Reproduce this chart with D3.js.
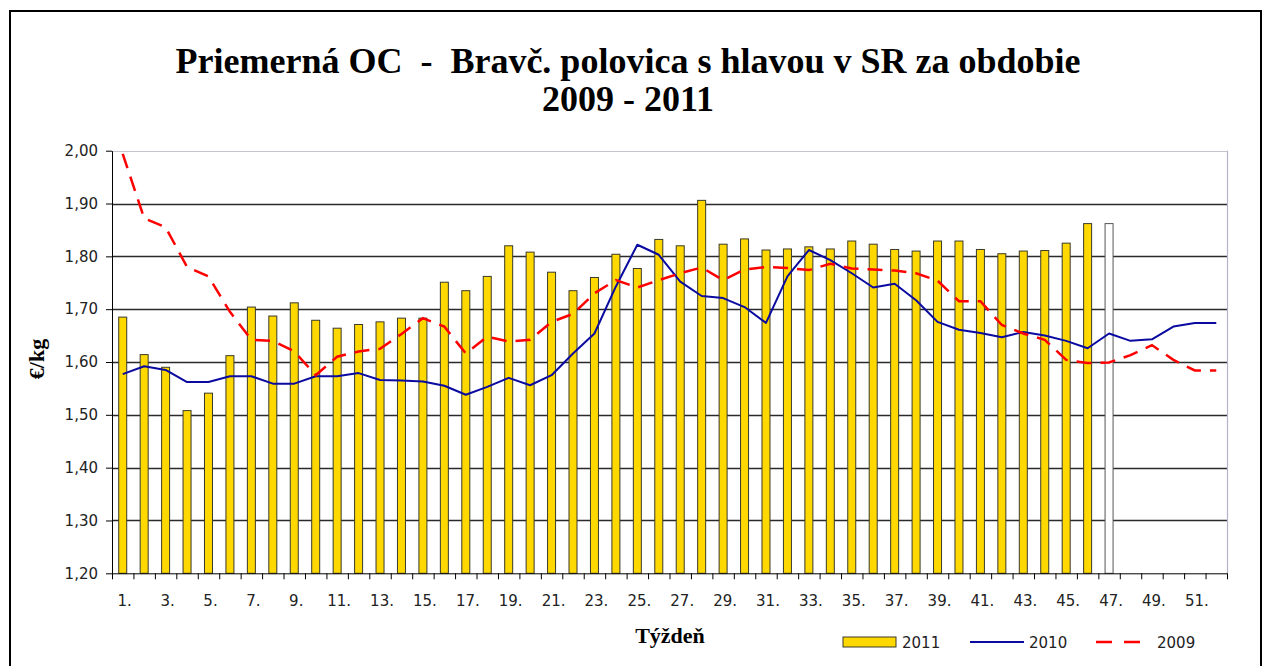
<!DOCTYPE html>
<html>
<head>
<meta charset="utf-8">
<script src="https://cdn.jsdelivr.net/npm/d3@7"></script>
<style>
  html, body { margin: 0; padding: 0; background: #fff; }
  svg { display: block; }
  text { white-space: pre; }
</style>
</head>
<body>
<svg id="chart" width="1270" height="666"></svg>
<script>
// ---- data ----
const weeks = d3.range(1, 53);
const tickWeeks = d3.range(1, 53, 2);
const yTicks = [1.2, 1.3, 1.4, 1.5, 1.6, 1.7, 1.8, 1.9, 2.0];

const values2011 = [1.685, 1.614, 1.590, 1.508, 1.541, 1.612, 1.704, 1.687, 1.712, 1.679,
  1.664, 1.671, 1.676, 1.683, 1.683, 1.751, 1.735, 1.762, 1.820, 1.808,
  1.770, 1.735, 1.760, 1.804, 1.777, 1.832, 1.820, 1.906, 1.823, 1.833,
  1.812, 1.814, 1.818, 1.814, 1.829, 1.823, 1.813, 1.810, 1.829, 1.829,
  1.813, 1.805, 1.810, 1.811, 1.825, 1.862, 1.862];
const emptyWeek = 47; // last bar drawn without fill

const values2010 = [1.577, 1.592, 1.585, 1.562, 1.562, 1.573, 1.573, 1.559, 1.559, 1.573,
  1.573, 1.579, 1.566, 1.565, 1.563, 1.555, 1.538, 1.553, 1.570, 1.556,
  1.575, 1.616, 1.654, 1.743, 1.822, 1.803, 1.752, 1.725, 1.721, 1.704,
  1.674, 1.762, 1.812, 1.793, 1.768, 1.741, 1.748, 1.717, 1.676, 1.661,
  1.655, 1.647, 1.657, 1.650, 1.640, 1.626, 1.654, 1.640, 1.643, 1.667,
  1.674, 1.674];

const values2009 = [1.994, 1.872, 1.855, 1.780, 1.762, 1.695, 1.642, 1.640, 1.620, 1.575,
  1.610, 1.620, 1.625, 1.653, 1.683, 1.667, 1.616, 1.648, 1.639, 1.642,
  1.676, 1.691, 1.730, 1.755, 1.741, 1.755, 1.768, 1.779, 1.755, 1.775,
  1.780, 1.778, 1.774, 1.786, 1.777, 1.775, 1.773, 1.768, 1.754, 1.715,
  1.715, 1.670, 1.654, 1.642, 1.604, 1.598, 1.599, 1.613, 1.632, 1.604,
  1.584, 1.584];

const titleLine1 = "Priemerná OC  -  Bravč. polovica s hlavou v SR za obdobie";
const titleLine2 = "2009 - 2011";
const yTitle = "€/kg";
const xTitle = "Týždeň";
const legendLabels = ["2011", "2010", "2009"];

// ---- layout ----
const svg = d3.select("#chart");
const L = 112, R = 1227, T = 150.7, B = 573.3;

const x = d3.scaleBand().domain(weeks).range([L, R]).paddingInner(0.627).paddingOuter(0.3135);
const xEdge = d3.scaleLinear().domain([0, 52]).range([L, R]);
const y = d3.scaleLinear().domain([1.2, 2.0]).range([B, T]);
const cx = d => x(d) + x.bandwidth() / 2;

// outer frame
svg.append("rect").attr("x", 10).attr("y", 11).attr("width", 1251).attr("height", 700)
  .attr("fill", "none").attr("stroke", "#000").attr("stroke-width", 2);

// gridlines
svg.append("g").selectAll("line").data(yTicks.filter(v => v > 1.2 && v < 2.0)).join("line")
  .attr("x1", L).attr("x2", R)
  .attr("y1", d => Math.round(y(d)) + 0.5).attr("y2", d => Math.round(y(d)) + 0.5)
  .attr("stroke", "#2a2a2a").attr("stroke-width", 1.3);

// plot border top/right
svg.append("line").attr("x1", L).attr("x2", R).attr("y1", Math.round(T) + 0.5).attr("y2", Math.round(T) + 0.5)
  .attr("stroke", "#c4c4cc").attr("stroke-width", 1.2);
svg.append("line").attr("x1", R + 0.5).attr("x2", R + 0.5).attr("y1", T).attr("y2", B)
  .attr("stroke", "#b4b4cc").attr("stroke-width", 1.2);

// bars 2011
svg.append("g").selectAll("rect").data(values2011.map((v, i) => ({ w: i + 1, v }))).join("rect")
  .attr("x", d => x(d.w)).attr("width", x.bandwidth())
  .attr("y", d => y(d.v)).attr("height", d => B - y(d.v))
  .attr("fill", d => d.w === emptyWeek ? "#ffffff" : "#ffd800")
  .attr("stroke", d => d.w === emptyWeek ? "#555" : "#3a3a2a").attr("stroke-width", 1);

// line 2010
const line = d3.line().x((d, i) => cx(weeks[i])).y(d => y(d));
svg.append("path").datum(values2010).attr("d", line)
  .attr("fill", "none").attr("stroke", "#0a0aa0").attr("stroke-width", 2).attr("stroke-linejoin", "round");

// line 2009
svg.append("path").datum(values2009).attr("d", line)
  .attr("fill", "none").attr("stroke", "#ff0000").attr("stroke-width", 2.5)
  .attr("stroke-dasharray", "15,9");

// y axis
const yAxis = svg.append("g").attr("transform", `translate(${L},0)`)
  .call(d3.axisLeft(y).tickValues(yTicks).tickSize(6).tickSizeOuter(0)
    .tickFormat(d => d.toFixed(2).replace(".", ",")));
yAxis.select(".domain").attr("stroke", "#000");
yAxis.selectAll(".tick line").attr("stroke", "#000");
yAxis.selectAll(".tick text").attr("font-family", "DejaVu Sans").attr("font-size", 15)
  .attr("fill", "#222").attr("x", -14);

// x axis: ticks at boundaries
const xTicksG = svg.append("g").attr("transform", `translate(0,${B})`)
  .call(d3.axisBottom(xEdge).tickValues(d3.range(0, 53)).tickSize(6).tickSizeOuter(0).tickFormat(""));
xTicksG.select(".domain").attr("stroke", "#000");
xTicksG.selectAll(".tick line").attr("stroke", "#000");

// x labels
const xLab = svg.append("g").attr("transform", `translate(0,${B})`)
  .call(d3.axisBottom(x).tickValues(tickWeeks).tickSize(0).tickFormat(d => d + "."));
xLab.select(".domain").remove();
xLab.selectAll(".tick text").attr("font-family", "DejaVu Sans").attr("font-size", 15)
  .attr("fill", "#222").attr("dy", 0).attr("y", 33).attr("dx", 2);

// titles
svg.append("text").attr("x", 628).attr("y", 73).attr("text-anchor", "middle")
  .attr("font-family", "Liberation Serif").attr("font-weight", "bold").attr("font-size", 36)
  .text(titleLine1);
svg.append("text").attr("x", 628).attr("y", 111).attr("text-anchor", "middle")
  .attr("font-family", "Liberation Serif").attr("font-weight", "bold").attr("font-size", 36)
  .text(titleLine2);

svg.append("text").attr("transform", "translate(44,359) rotate(-90)").attr("text-anchor", "middle")
  .attr("font-family", "Liberation Serif").attr("font-weight", "bold").attr("font-size", 22)
  .text(yTitle);

svg.append("text").attr("x", 670).attr("y", 643).attr("text-anchor", "middle")
  .attr("font-family", "Liberation Serif").attr("font-weight", "bold").attr("font-size", 22)
  .text(xTitle);

// legend
const lg = svg.append("g");
lg.append("rect").attr("x", 843).attr("y", 637).attr("width", 53).attr("height", 10)
  .attr("fill", "#ffd800").attr("stroke", "#3a3a2a").attr("stroke-width", 1);
lg.append("line").attr("x1", 970).attr("x2", 1024).attr("y1", 642).attr("y2", 642)
  .attr("stroke", "#0a0aa0").attr("stroke-width", 2);
lg.append("line").attr("x1", 1096).attr("x2", 1142).attr("y1", 642).attr("y2", 642)
  .attr("stroke", "#ff0000").attr("stroke-width", 2.5).attr("stroke-dasharray", "16,12");
const legX = [902, 1029, 1157];
legendLabels.forEach((t, i) => {
  lg.append("text").attr("x", legX[i]).attr("y", 648)
    .attr("font-family", "DejaVu Sans").attr("font-size", 15).attr("fill", "#222").text(t);
});
</script>
</body>
</html>
